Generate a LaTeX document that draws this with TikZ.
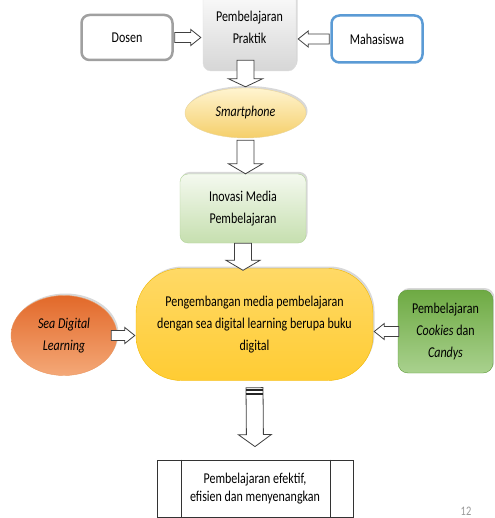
\documentclass[tikz,border=0pt]{standalone}
\usepackage{fontspec}
\setmainfont{Carlito}[FakeStretch=0.8]
\usetikzlibrary{shapes.geometric, calc, shadows}

\definecolor{dosenline}{HTML}{A0A0A0}
\definecolor{mhsline}{HTML}{5B9BD5}
\definecolor{smarttop}{HTML}{FFF4D0}
\definecolor{smartbot}{HTML}{F5CF6A}
\definecolor{smartline}{HTML}{EAD59A}
\definecolor{inovtop}{HTML}{F4F9EF}
\definecolor{inovbot}{HTML}{C6DFAF}
\definecolor{inovline}{HTML}{B3D49A}
\definecolor{pengtop}{HTML}{FFD966}
\definecolor{pengmid}{HTML}{FFC000}
\definecolor{pengbot}{HTML}{FFCC33}
\definecolor{pengline}{HTML}{F2B800}
\definecolor{seatop}{HTML}{E2692A}
\definecolor{seabot}{HTML}{F4A877}
\definecolor{sealine}{HTML}{EB965E}
\definecolor{cooktop}{HTML}{6EAA43}
\definecolor{cookbot}{HTML}{A9D18E}
\definecolor{cookline}{HTML}{5E9A3A}

\tikzset{
  blk shaft/.store in=\blkshaft,
  blk head/.store in=\blkhead,
  blk tip/.store in=\blktip,
  blk shaft=5, blk head=8, blk tip=10,
  blockarrow/.style={draw=black!75, line width=0.8, fill=white,
    to path={let \p1=(\tikztostart), \p2=(\tikztotarget),
      \n1={atan2(\y2-\y1,\x2-\x1)}, \n2={veclen(\x2-\x1,\y2-\y1)} in
      ([shift={(\p1)},rotate=\n1]0,\blkshaft)
      -- ([shift={(\p1)},rotate=\n1]{\n2-\blktip},\blkshaft)
      -- ([shift={(\p1)},rotate=\n1]{\n2-\blktip},\blkhead)
      -- ([shift={(\p1)},rotate=\n1]\n2,0)
      -- ([shift={(\p1)},rotate=\n1]{\n2-\blktip},-\blkhead)
      -- ([shift={(\p1)},rotate=\n1]{\n2-\blktip},-\blkshaft)
      -- ([shift={(\p1)},rotate=\n1]0,-\blkshaft) -- cycle}},
  bigarrow/.style={blockarrow, blk shaft=8.5, blk head=17, blk tip=10},
  box/.style={rectangle, rounded corners=8, align=center, text=black,
    inner sep=2, font=\fontsize{15}{22}\selectfont},
  soft/.style={drop shadow={opacity=0.3, shadow xshift=1.5, shadow yshift=-2}},
}

\begin{document}
\begin{tikzpicture}[x=1pt, y=-1pt]
\clip (0,0) rectangle (494,518);
\fill[white] (0,0) rectangle (494,518);

% top row
\node[box, draw=dosenline, line width=2.5, fill=white,
  minimum width=91, minimum height=45] (dosen) at (127,37.5) {Dosen};
\node[box, soft, top color=white, bottom color=gray!32, draw=gray!25,
  minimum width=93, minimum height=88] (praktik) at (249.5,27) {Pembelajaran\\Praktik};
\node[box, draw=mhsline, line width=2.5, fill=white,
  minimum width=91, minimum height=47] (mhs) at (377,39) {Mahasiswa};

% middle column
\node[ellipse, soft, align=center, top color=smarttop, bottom color=smartbot,
  draw=smartline, font=\fontsize{15}{22}\selectfont, text=black,
  minimum width=121, minimum height=50, inner sep=0] (smart) at (245.5,113) {\textit{Smartphone}};
\node[box, soft, top color=inovtop, bottom color=inovbot, draw=inovline,
  minimum width=126, minimum height=69] (inovasi) at (243,208.5) {Inovasi Media\\Pembelajaran};
\node[box, soft, rounded corners=45, top color=pengtop, middle color=pengmid,
  bottom color=pengbot, draw=pengline, minimum width=237, minimum height=112]
  (peng) at (254.5,324.5) {Pengembangan media pembelajaran\\dengan sea digital learning berupa buku\\digital};

% side inputs
\node[ellipse, soft, align=center, top color=seatop, bottom color=seabot,
  draw=sealine, font=\fontsize{15}{22}\selectfont, text=black,
  minimum width=106, minimum height=80, inner sep=0] (sea) at (64,335.5) {\textit{Sea Digital}\\\textit{Learning}};
\node[box, soft, rounded corners=10, top color=cooktop, bottom color=cookbot,
  draw=cookline, minimum width=95, minimum height=83]
  (cookies) at (445.5,331.5) {Pembelajaran\\\textit{Cookies} dan\\\textit{Candys}};

% result
\node[box, rounded corners=0, draw=black!80, fill=white, line width=0.8,
  font=\fontsize{15}{18}\selectfont, minimum width=196, minimum height=57]
  (hasil) at (255,488.5) {Pembelajaran efektif,\\efisien dan menyenangkan};
\draw[black!80, line width=0.8] ($(hasil.north west)+(25,0)$) -- ($(hasil.south west)+(25,0)$);
\draw[black!80, line width=0.8] ($(hasil.north east)+(-23,0)$) -- ($(hasil.south east)+(-23,0)$);

% arrows
\draw[blockarrow] ([xshift=1]dosen.east) to ([xshift=-2]dosen.east -| praktik.west);
\draw[blockarrow] ([xshift=-1]mhs.west) to ([xshift=2]mhs.west -| praktik.east);
\draw[bigarrow, blk tip=8] ([yshift=11]praktik.south -| smart.north) to ([yshift=1]smart.north);
\draw[bigarrow] ([yshift=-2]smart.south) to (smart.south |- inovasi.north);
\draw[bigarrow] (inovasi.south) to ([yshift=-2]inovasi.south |- peng.north);
\draw[blockarrow] ([xshift=-6]sea.east) to ([xshift=-1]sea.east -| peng.west);
\draw[blockarrow] ([xshift=1]cookies.west) to ([xshift=1]cookies.west -| peng.east);
\draw[bigarrow, blk head=16.5, blk tip=12] ([yshift=-7]peng.south) to ([yshift=13]hasil.north);
\draw[black!85, line width=1.6] ($(peng.south)+(-8.5,9.5)$) -- ++(17,0);
\draw[black!85, line width=1.6] ($(peng.south)+(-8.5,13)$) -- ++(17,0);

% page number
\node[text=gray!80, font=\fontsize{13}{15}\selectfont] (nomor) at (466,511) {12};
\end{tikzpicture}
\end{document}
